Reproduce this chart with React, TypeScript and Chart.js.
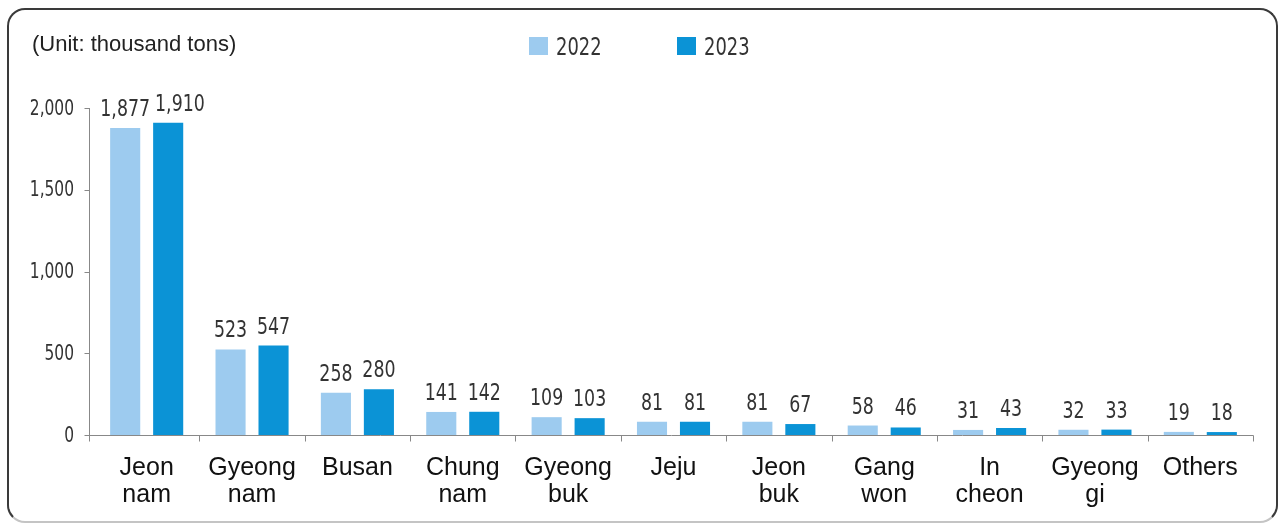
import React, { useEffect, useRef } from "react";
import { Chart, registerables } from "chart.js";

Chart.register(...registerables);

const categories: string[][] = [
  ["Jeon", "nam"],
  ["Gyeong", "nam"],
  ["Busan"],
  ["Chung", "nam"],
  ["Gyeong", "buk"],
  ["Jeju"],
  ["Jeon", "buk"],
  ["Gang", "won"],
  ["In", "cheon"],
  ["Gyeong", "gi"],
  ["Others"],
];
const values2022: number[] = [1877, 523, 258, 141, 109, 81, 81, 58, 31, 32, 19];
const values2023: number[] = [1910, 547, 280, 142, 103, 81, 67, 46, 43, 33, 18];
const seriesLabels: string[] = ["2022", "2023"];
const seriesColors: string[] = ["#9dcbef", "#0b93d6"];
const yTicks: number[] = [0, 500, 1000, 1500, 2000];
const unitTitle = "(Unit: thousand tons)";

const NUM_FONT = "'DejaVu Sans Condensed', 'DejaVu Sans', sans-serif";
const TXT_FONT = "'Liberation Sans', Arial, sans-serif";
const AXIS_COLOR = "#888";
const Y_AXIS_X = 89;

const fmt = (v: number) => v.toLocaleString("en-US");

function drawNarrow(ctx: any, text: string, x: number, y: number, sx: number) {
  ctx.save();
  ctx.translate(x, y);
  ctx.scale(sx, 1);
  ctx.fillText(text, 0, 0);
  ctx.restore();
}

const overlayPlugin = {
  id: "overlay",
  afterDraw(chart: any) {
    const ctx = chart.ctx;
    const xs = chart.scales.x;
    const ys = chart.scales.y;
    const y0 = ys.getPixelForValue(0);
    const yTop = ys.getPixelForValue(yTicks[yTicks.length - 1]);
    ctx.save();
    // axes
    ctx.strokeStyle = AXIS_COLOR;
    ctx.lineWidth = 1;
    ctx.beginPath();
    const ax = Y_AXIS_X + 0.5;
    const ay = Math.round(y0) + 0.5;
    ctx.moveTo(ax, Math.round(yTop));
    ctx.lineTo(ax, ay + 6);
    ctx.moveTo(ax, ay);
    ctx.lineTo(Math.round(xs.right) + 0.5, ay);
    yTicks.forEach((v) => {
      const py = Math.round(ys.getPixelForValue(v)) + 0.5;
      ctx.moveTo(ax - 5, py);
      ctx.lineTo(ax, py);
    });
    for (let i = 0; i < categories.length; i++) {
      const bx = i < categories.length - 1
        ? (xs.getPixelForValue(i) + xs.getPixelForValue(i + 1)) / 2
        : xs.right;
      const px = Math.round(bx) + 0.5;
      ctx.moveTo(px, ay);
      ctx.lineTo(px, ay + 6);
    }
    ctx.stroke();

    // data labels
    ctx.font = `23px ${NUM_FONT}`;
    ctx.fillStyle = "#333";
    ctx.textAlign = "center";
    ctx.textBaseline = "alphabetic";
    const m0 = chart.getDatasetMeta(0);
    const m1 = chart.getDatasetMeta(1);
    const sx = 0.84;
    for (let i = 0; i < categories.length; i++) {
      const t0 = fmt(values2022[i]);
      const t1 = fmt(values2023[i]);
      const w0 = ctx.measureText(t0).width * sx;
      const w1 = ctx.measureText(t1).width * sx;
      const x0 = m0.data[i].x;
      let x1 = m1.data[i].x;
      const overlap = x0 + w0 / 2 + 5 - (x1 - w1 / 2);
      if (overlap > 0) x1 += overlap;
      drawNarrow(ctx, t0, x0, m0.data[i].y - 12, sx);
      drawNarrow(ctx, t1, x1, m1.data[i].y - 12, sx);
    }
    // y tick labels
    ctx.font = `22px ${NUM_FONT}`;
    ctx.textAlign = "right";
    ctx.textBaseline = "middle";
    yTicks.forEach((v) => {
      drawNarrow(ctx, fmt(v), Y_AXIS_X - 15, ys.getPixelForValue(v) + 1, 0.78);
    });
    // title
    ctx.font = `22px ${TXT_FONT}`;
    ctx.fillStyle = "#222";
    ctx.textAlign = "left";
    ctx.textBaseline = "alphabetic";
    ctx.fillText(unitTitle, 32, 51);
    // legend
    const starts = [529, 677];
    ctx.font = `24px ${NUM_FONT}`;
    seriesLabels.forEach((lab, i) => {
      ctx.fillStyle = seriesColors[i];
      ctx.fillRect(starts[i], 37, 19, 18);
      ctx.fillStyle = "#333";
      drawNarrow(ctx, lab, starts[i] + 27, 55, 0.83);
    });
    ctx.restore();
  },
};

export default function App() {
  const ref = useRef<HTMLCanvasElement>(null);
  useEffect(() => {
    if (!ref.current) return;
    const chart = new Chart(ref.current, {
      type: "bar",
      data: {
        labels: categories,
        datasets: seriesLabels.map((lab, i) => ({
          label: lab,
          data: i === 0 ? values2022 : values2023,
          backgroundColor: seriesColors[i],
          borderWidth: 0,
          categoryPercentage: 0.816,
          barPercentage: 0.7,
        })),
      },
      options: {
        animation: false,
        responsive: false,
        layout: { padding: { left: 0, right: 26, top: 108, bottom: 0 } },
        plugins: { legend: { display: false }, tooltip: { enabled: false }, title: { display: false } },
        scales: {
          x: {
            grid: { display: false, drawTicks: true, tickLength: 6 },
            border: { display: false },
            ticks: {
              color: "#111",
              font: { family: TXT_FONT, size: 25, lineHeight: 1.06 },
              padding: 14,
              maxRotation: 0,
              autoSkip: false,
            },
            afterFit: (s: any) => { s.height = 524 - 435; },
          },
          y: {
            min: 0,
            max: 2000,
            afterBuildTicks: (s: any) => { s.ticks = yTicks.map((v) => ({ value: v })); },
            grid: { display: false },
            border: { display: false },
            ticks: { display: false },
            afterFit: (s: any) => { s.width = 94; },
          },
        },
      },
      plugins: [overlayPlugin],
    });
    return () => chart.destroy();
  }, []);
  return (
    <div style={{ position: "fixed", left: 0, top: 0, width: 1279, height: 524, background: "#fff" }}>
      <div
        style={{
          position: "absolute",
          left: 7,
          top: 8,
          width: 1271,
          height: 515,
          boxSizing: "border-box",
          border: "2px solid #3a3a3a",
          borderBottom: "2px solid #c4c4c4",
          borderRadius: 18,
        }}
      />
      <canvas ref={ref} width={1279} height={524} style={{ position: "absolute", left: 0, top: 0, width: 1279, height: 524 }} />
    </div>
  );
}
